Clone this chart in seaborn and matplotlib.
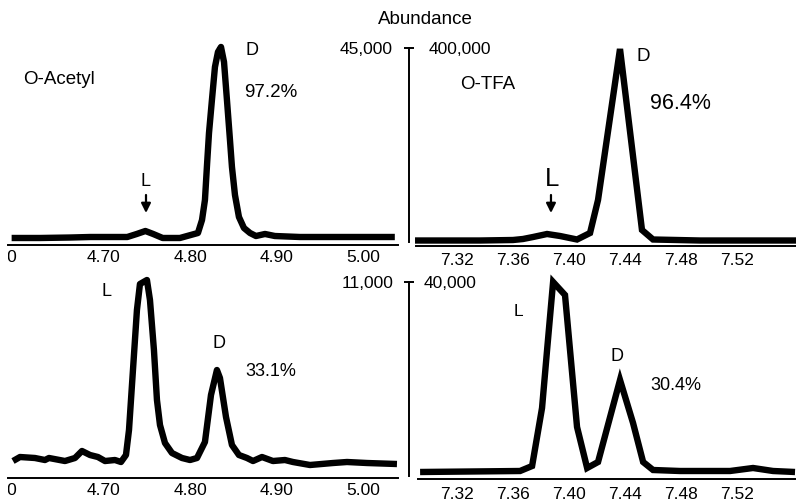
import matplotlib
matplotlib.use("Agg")
import matplotlib.pyplot as plt
import seaborn as sns
import pandas as pd
from matplotlib.transforms import Bbox, TransformedBbox

# ---- chromatogram traces: retention time (min) and abundance ----
acetyl_top_time = [4.593, 4.626, 4.661, 4.684, 4.707, 4.727, 4.738, 4.748, 4.757, 4.768,
                   4.788, 4.8089, 4.8136, 4.8170, 4.8194, 4.8217, 4.8251, 4.8286, 4.8321,
                   4.8356, 4.8391, 4.8425, 4.8460, 4.8483, 4.8518, 4.8564, 4.8622, 4.8692,
                   4.8761, 4.8866, 4.898, 4.927, 4.962, 4.997, 5.037]
acetyl_top_abund = [930, 930, 1040, 1160, 1160, 1160, 1860, 2550, 1860, 930,
                    930, 2090, 5100, 9740, 17860, 25290, 32940, 40600, 44080,
                    45240, 41760, 32940, 23660, 17400, 10900, 5800, 3250, 2090,
                    1390, 1860, 1390, 1160, 1160, 1160, 1160]

tfa_top_time = [7.2900, 7.3150, 7.3364, 7.3600, 7.3671, 7.3743, 7.3843, 7.3936, 7.4057,
                7.4150, 7.4207, 7.4364, 7.4521, 7.4600, 7.4936, 7.5293, 7.5621]
tfa_top_abund = [3090, 3090, 3090, 4120, 6190, 10310, 16500, 12370, 5150,
                 18560, 86600, 397970, 24740, 5150, 3090, 3090, 3090]

acetyl_bot_time = [4.5946, 4.6027, 4.6200, 4.6316, 4.6363, 4.6548, 4.6664, 4.6745, 4.6838,
                   4.6930, 4.7012, 4.7127, 4.7197, 4.7255, 4.7290, 4.7336, 4.7382, 4.7417,
                   4.7498, 4.7533, 4.7579, 4.7614, 4.7649, 4.7707, 4.7788, 4.7904, 4.7997,
                   4.8078, 4.8170, 4.8240, 4.8309, 4.8344, 4.8414, 4.8483, 4.8564, 4.8657,
                   4.8727, 4.8831, 4.8958, 4.9097, 4.9190, 4.9387, 4.9654, 4.9816, 5.0048,
                   5.0395]
acetyl_bot_abund = [850, 1077, 1021, 907, 1021, 850, 1021, 1418, 1191,
                    1077, 850, 907, 794, 1191, 2608, 6010, 9412, 10886,
                    11113, 9979, 7144, 4309, 2892, 1871, 1304, 1021, 907,
                    1021, 1928, 4593, 6010, 5557, 3345, 1758, 1191, 1021,
                    850, 1077, 850, 907, 794, 624, 737, 794, 737,
                    680]

tfa_bot_time = [7.2936, 7.3293, 7.3650, 7.3736, 7.3807, 7.3843, 7.3886, 7.3971, 7.4057,
                7.4129, 7.4207, 7.4364, 7.4457, 7.4529, 7.4600, 7.4793, 7.5150, 7.5314,
                7.5457, 7.5614]
tfa_bot_abund = [825, 928, 1031, 2062, 14022, 25981, 40003, 37322, 10104,
                 1650, 2887, 19795, 10929, 2887, 1237, 1031, 1031, 1650,
                 1031, 825]

# ---- axis ticks and abundance scale bars ----
acetyl_ticks = [4.60, 4.70, 4.80, 4.90, 5.00]
acetyl_tick_labels = ["4.60", "4.70", "4.80", "4.90", "5.00"]
tfa_ticks = [7.32, 7.36, 7.40, 7.44, 7.48, 7.52]
tfa_tick_labels = ["7.32", "7.36", "7.40", "7.44", "7.48", "7.52"]
acetyl_scale = [45000, 11000]      # full-scale abundance, top / bottom row
tfa_scale = [400000, 40000]
acetyl_scale_labels = ["45,000", "11,000"]
tfa_scale_labels = ["400,000", "40,000"]

W, H = 796, 501
sns.set_theme(style="white")
plt.rcParams["font.family"] = ["Liberation Sans", "DejaVu Sans"]
plt.rcParams["text.color"] = "black"
plt.rcParams["xtick.color"] = "black"
plt.rcParams["ytick.color"] = "black"

TICK_FS = 12.5

fig = plt.figure(figsize=(W / 100, H / 100), dpi=100)


def px_axes(x0, y0, x1, y1):
    return fig.add_axes([x0 / W, 1 - y1 / H, (x1 - x0) / W, (y1 - y0) / H])


def trace(ax, t, a, join):
    df = pd.DataFrame({"time": t, "abundance": a})
    sns.lineplot(data=df, x="time", y="abundance", ax=ax, color="black",
                 linewidth=4.6, estimator=None, sort=False, legend=False)
    for ln in ax.lines:
        ln.set_clip_on(False)
        ln.set_solid_joinstyle(join)
        ln.set_solid_capstyle("butt")


def style_panel(ax, ticks, labels, pad):
    for s in ["left", "right", "top"]:
        ax.spines[s].set_visible(False)
    ax.spines["bottom"].set_color("black")
    ax.spines["bottom"].set_linewidth(1.4)
    ax.set_yticks([])
    ax.set_xlabel("")
    ax.set_ylabel("")
    ax.patch.set_alpha(0)
    ax.set_xticks(ticks)
    ax.set_xticklabels(labels)
    ax.tick_params(axis="x", length=0, labelsize=TICK_FS, pad=pad)


# panels
ax_tl = px_axes(8, 48, 398, 245)
ax_tr = px_axes(416, 48, 796, 246)
ax_bl = px_axes(8, 282, 398, 478)
ax_br = px_axes(418, 282, 796, 479)

trace(ax_tl, acetyl_top_time, acetyl_top_abund, "round")
trace(ax_tr, tfa_top_time, tfa_top_abund, "miter")
trace(ax_bl, acetyl_bot_time, acetyl_bot_abund, "round")
trace(ax_br, tfa_bot_time, tfa_bot_abund, "miter")

ax_tl.set_xlim(4.5888, 5.0407); ax_tl.set_ylim(-696, acetyl_scale[0])
ax_tr.set_xlim(7.2907, 7.5621); ax_tr.set_ylim(-8247, tfa_scale[0])
ax_bl.set_xlim(4.5888, 5.0407); ax_bl.set_ylim(-113, acetyl_scale[1])
ax_br.set_xlim(7.2921, 7.5621); ax_br.set_ylim(-619, tfa_scale[1])

style_panel(ax_tl, acetyl_ticks, acetyl_tick_labels, 3.4)
style_panel(ax_tr, tfa_ticks, tfa_tick_labels, 4.8)
style_panel(ax_bl, acetyl_ticks, acetyl_tick_labels, 3.4)
style_panel(ax_br, tfa_ticks, tfa_tick_labels, 5.6)

# the first retention-time label runs off the left edge of the figure
for ax in (ax_tl, ax_bl):
    first = ax.get_xticklabels()[0]
    first.set_ha("right")
    first.set_clip_box(TransformedBbox(Bbox.from_extents(8 / W, 0, 1, 1), fig.transFigure))
    first.set_clip_on(True)

# shared abundance scale bars between the two columns
for (y0, y1), left_max, left_lab, right_max, right_lab, rpad in [
        ((48, 242), acetyl_scale[0], acetyl_scale_labels[0], tfa_scale[0], tfa_scale_labels[0], 13.7),
        ((282, 476), acetyl_scale[1], acetyl_scale_labels[1], tfa_scale[1], tfa_scale_labels[1], 10.0)]:
    bar = px_axes(409, y0, 409.8, y1)
    bar.set_ylim(0, left_max)
    bar.set_xticks([])
    bar.set_yticks([left_max])
    bar.set_yticklabels([left_lab])
    for s in ["right", "top", "bottom"]:
        bar.spines[s].set_visible(False)
    bar.spines["left"].set_color("black")
    bar.spines["left"].set_linewidth(1.4)
    bar.patch.set_alpha(0)
    bar.tick_params(axis="y", direction="inout", length=7.2, width=1.4,
                    labelsize=TICK_FS, pad=7.9, left=True)
    twin = bar.twinx()
    twin.set_ylim(0, right_max)
    twin.set_yticks([right_max])
    twin.set_yticklabels([right_lab])
    for s in twin.spines.values():
        s.set_visible(False)
    twin.tick_params(axis="y", length=0, labelsize=TICK_FS, pad=rpad, right=True)

fig.text(425.5 / W, 1 - 20 / H, "Abundance", ha="center", va="center", fontsize=13.5)

# peak annotations
arrow = dict(arrowstyle="-|>", color="black", lw=1.6, mutation_scale=14,
             shrinkA=0, shrinkB=0)

ax_tl.text(4.6479, 37584, "O-Acetyl", ha="center", va="center", fontsize=13.5)
ax_tl.text(4.8715, 44312, "D", ha="center", va="center", fontsize=13)
ax_tl.text(4.8935, 34568, "97.2%", ha="center", va="center", fontsize=13.5)
ax_tl.text(4.7487, 13920, "L", ha="center", va="center", fontsize=13)
ax_tl.annotate("", xy=(4.7487, 6728), xytext=(4.7487, 10904), arrowprops=arrow)

ax_tr.text(7.3421, 323734, "O-TFA", ha="center", va="center", fontsize=13.5)
ax_tr.text(7.4529, 381470, "D", ha="center", va="center", fontsize=13.5)
ax_tr.text(7.4793, 284556, "96.4%", ha="center", va="center", fontsize=15.5)
ax_tr.text(7.3879, 129906, "L", ha="center", va="center", fontsize=18.5)
ax_tr.annotate("", xy=(7.3871, 59798), xytext=(7.3871, 96914), arrowprops=arrow)

ax_bl.text(4.7035, 10488, "L", ha="center", va="center", fontsize=13)
ax_bl.text(4.8333, 7524, "D", ha="center", va="center", fontsize=13)
ax_bl.text(4.8935, 5928, "33.1%", ha="center", va="center", fontsize=13)

ax_br.text(7.3636, 33948, "L", ha="center", va="center", fontsize=12.5)
ax_br.text(7.4343, 24633, "D", ha="center", va="center", fontsize=13)
ax_br.text(7.4764, 18630, "30.4%", ha="center", va="center", fontsize=13)

fig.savefig("out.png", dpi=100)
